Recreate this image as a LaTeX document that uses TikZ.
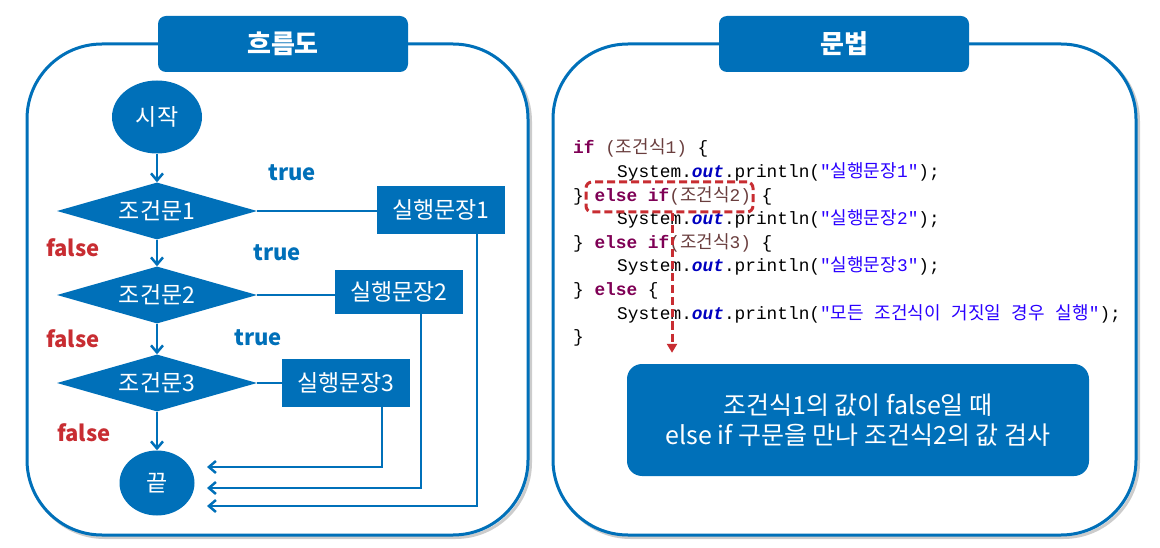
\documentclass[tikz,border=0pt]{standalone}
\usepackage{fontspec}
\setmainfont{Noto Sans CJK KR}
\setmonofont{Liberation Mono}
\newfontfamily\korfont{Noto Sans CJK KR}
\usepackage{xcolor}
\usepackage{tikz}
\usetikzlibrary{shapes.geometric}
\usetikzlibrary{arrows.meta}
\usetikzlibrary{positioning}

\definecolor{Blau}{RGB}{0,112,185}
\definecolor{Rot}{RGB}{200,45,50}
\definecolor{Lila}{RGB}{127,0,85}
\definecolor{Braun}{RGB}{106,62,62}
\definecolor{Strblau}{RGB}{42,0,255}
\definecolor{Outblau}{RGB}{0,0,192}

\newcommand{\ko}[1]{{\korfont\fontsize{18}{20}\selectfont #1}}
\newcommand{\kw}[1]{\textcolor{Lila}{\bfseries #1}}
\newcommand{\ausd}[1]{\textcolor{Braun}{#1}}
\newcommand{\zk}[1]{\textcolor{Strblau}{#1}}
\newcommand{\outf}{\textcolor{Outblau}{\bfseries\itshape out}}

\tikzset{
  Rahmen/.style={draw=Blau, line width=3pt, rounded corners=75pt},
  Schatten/.style={draw=black!20, line width=3pt, rounded corners=75pt},
  Kopf/.style={fill=Blau, rounded corners=8pt, minimum width=250pt, minimum height=56pt,
    inner sep=0pt, text=white, font=\fontsize{26}{30}\selectfont\bfseries},
  Oval/.style={ellipse, fill=Blau, text=white, inner sep=0pt, font=\fontsize{23}{27}\selectfont},
  Raute/.style={diamond, aspect=3.5, fill=Blau, text=white, inner sep=0pt,
    minimum width=200pt, minimum height=57pt, font=\fontsize{23}{27}\selectfont},
  Kasten/.style={fill=Blau, text=white, minimum width=128pt, inner sep=0pt,
    font=\fontsize{23}{27}\selectfont},
  Linie/.style={draw=Blau, line width=2.5pt},
  Pfeil/.style={Linie, ->},
  Wahr/.style={text=Blau, font=\fontsize{22}{26}\selectfont\bfseries},
  Falsch/.style={text=Rot, font=\fontsize{22}{26}\selectfont\bfseries},
  Code/.style={anchor=base west, inner sep=0pt, font=\ttfamily\fontsize{17.8}{20}\selectfont},
  Markierung/.style={draw=Rot, line width=3pt, dash pattern=on 8pt off 4pt,
    rounded corners=6pt, inner sep=0pt, minimum width=167pt, minimum height=30pt},
  RotPfeil/.style={draw=Rot, line width=3pt, dash pattern=on 8pt off 4pt,
    -{Triangle[length=9pt,width=10pt]}},
  Hinweis/.style={fill=Blau, rounded corners=15pt, text=white, align=center,
    font=\fontsize{25}{30}\selectfont, minimum width=462pt, minimum height=112pt}
}

\begin{document}
\begin{tikzpicture}[x=1pt, y=-1pt,
>={Straight Barb[length=7pt,width=12pt]} % Pfeilspitzen
]
\useasboundingbox (0,0) rectangle (1160,548);

%Rahmen
\draw[Schatten] (29.5,46.5) rectangle (530.5,537.5);
\draw[Schatten] (555.5,46.5) rectangle (1138.5,537.5);
\draw[Rahmen, fill=white] (27,44) rectangle (528,535);
\draw[Rahmen, fill=white] (553,44) rectangle (1136,535);
\node[Kopf] (kopfL) at (283,44) {흐름도};
\node[Kopf] (kopfR) at (844,44) {문법};

%Flussdiagramm
\node[Oval, minimum width=90pt, minimum height=73pt] (start) at (157,117) {시작};
\node[Raute] (c1) at (157,211) {조건문1};
\node[Raute] (c2) at (157,295) {조건문2};
\node[Raute] (c3) at (157,383) {조건문3};
\node[Oval, minimum width=75pt, minimum height=65pt] (ende) at (157,483) {끝};

\node[Kasten, minimum height=48pt] (s1) at (441,210) {실행문장1};
\node[Kasten, minimum height=44pt] (s2) at (399,292) {실행문장2};
\node[Kasten, minimum height=48pt] (s3) at (346,383) {실행문장3};

\node[Wahr] (t1) at (292,173) {true};
\node[Wahr] (t2) at (277,253) {true};
\node[Wahr] (t3) at (258,338) {true};
\node[Falsch] (f1) at (73,248) {false};
\node[Falsch] (f2) at (73,339) {false};
\node[Falsch] (f3) at (84,433) {false};

\coordinate (e1) at (207,506);
\coordinate (e2) at (207,488);
\coordinate (e3) at (207,467);

%Verbindungen
\draw[Pfeil] (start) -- (c1);
\draw[Pfeil] (c1) -- (c2);
\draw[Pfeil] (c2) -- (c3);
\draw[Pfeil] (c3) -- (ende);
\draw[Linie] (c1.east) -- (c1.east -| s1.west);
\draw[Linie] (c2.east) -- (c2.east -| s2.west);
\draw[Linie] (c3.east) -- (c3.east -| s3.west);
\draw[Pfeil] ([xshift=36pt]s1.south) |- (e1);
\draw[Pfeil] ([xshift=22pt]s2.south) |- (e2);
\draw[Pfeil] ([xshift=36pt]s3.south) |- (e3);

%Quelltext
\node[Code] (l1) at (573,154) {\kw{if} \ausd{(\ko{조건식}1)} \{};
\node[Code] (l2) at (617,177.6) {System.\outf.println(\zk{"\ko{실행문장}1"});};
\node[Code] (l3) at (573,201.2) {\} \kw{else} \kw{if}\ausd{(\ko{조건식}2)} \{};
\node[Code] (l4) at (617,224.8) {System.\outf.println(\zk{"\ko{실행문장}2"});};
\node[Code] (l5) at (573,248.4) {\} \kw{else} \kw{if}\ausd{(\ko{조건식}3)} \{};
\node[Code] (l6) at (617,272) {System.\outf.println(\zk{"\ko{실행문장}3"});};
\node[Code] (l7) at (573,295.6) {\} \kw{else} \{};
\node[Code] (l8) at (617,319.2) {System.\outf.println(\zk{"\ko{모든} \ko{조건식이} \ko{거짓일} \ko{경우} \ko{실행}"});};
\node[Code] (l9) at (573,342.8) {\}};

%Hinweis
\node[Markierung] (hl) at (669.5,197) {};
\node[Hinweis] (note) at (858,420) {조건식1의 값이 false일 때\\else if 구문을 만나 조건식2의 값 검사};
\draw[RotPfeil, shorten >=11pt] ([xshift=2.5pt]hl.south) -- ([xshift=2.5pt]hl.south |- note.north);

\end{tikzpicture}
\end{document}
